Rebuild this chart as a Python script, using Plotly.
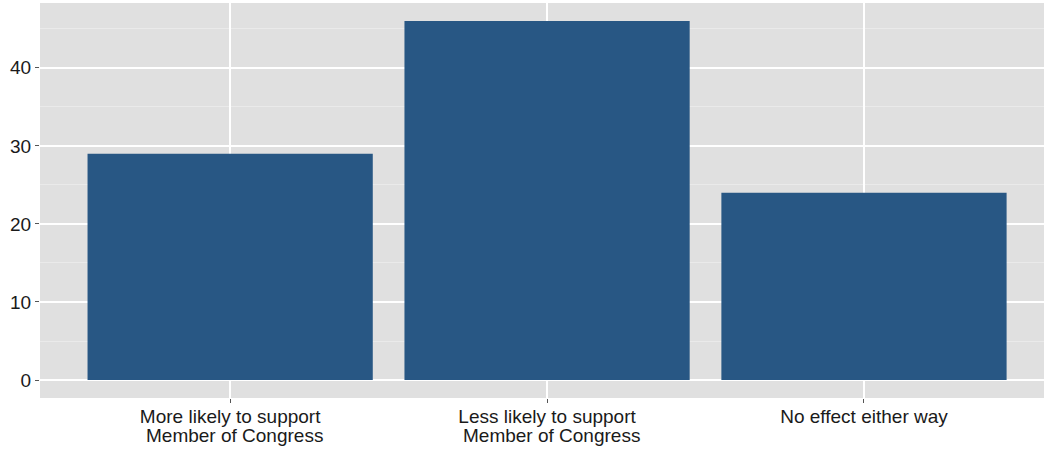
import plotly.graph_objects as go

label_line1 = ["More likely to support", "Less likely to support", "No effect either way"]
label_line2 = ["Member of Congress", "Member of Congress", ""]
values = [29, 46, 24]
y_ticks = [0, 10, 20, 30, 40]
positions = list(range(len(values)))

fig = go.Figure()
fig.add_trace(go.Bar(x=positions, y=values, width=0.9,
                     marker=dict(color="#285784", line=dict(width=0))))

for xp, txt in zip(positions, label_line2):
    if txt:
        fig.add_annotation(x=xp, xref="x", y=-0.0937, yref="paper",
                           text=txt, showarrow=False, xanchor="center",
                           yanchor="middle", xshift=4,
                           font=dict(family="Liberation Sans, Arial, sans-serif",
                                     size=19, color="#1a1a1a"))

fig.update_layout(
    width=1044, height=450,
    margin=dict(l=40, r=0, t=3, b=52, autoexpand=False),
    paper_bgcolor="white",
    plot_bgcolor="#E0E0E0",
    showlegend=False,
    font=dict(family="Liberation Sans, Arial, sans-serif", size=19, color="#1a1a1a"),
    bargap=0.1,
)
fig.update_xaxes(
    range=[-0.6, 2.568],
    tickmode="array", tickvals=positions, ticktext=label_line1,
    showgrid=True, gridcolor="white", gridwidth=1.5,
    ticks="outside", ticklen=4, tickcolor="#555", tickwidth=1,
    ticklabelstandoff=-3,
    zeroline=False, showline=False, automargin=False,
)
fig.update_yaxes(
    range=[-2.3, 48.3],
    tickmode="array", tickvals=y_ticks,
    showgrid=True, gridcolor="white", gridwidth=1.5,
    minor=dict(tickmode="array", tickvals=[5, 15, 25, 35, 45], showgrid=True,
               gridcolor="#EAEAEA", gridwidth=0.8, ticks=""),
    ticks="outside", ticklen=4, tickcolor="#555", tickwidth=1,
    zeroline=False, showline=False, automargin=False,
)

fig.write_html("out.html", post_script="document.body.style.margin='0';",
               config={"displayModeBar": False})
